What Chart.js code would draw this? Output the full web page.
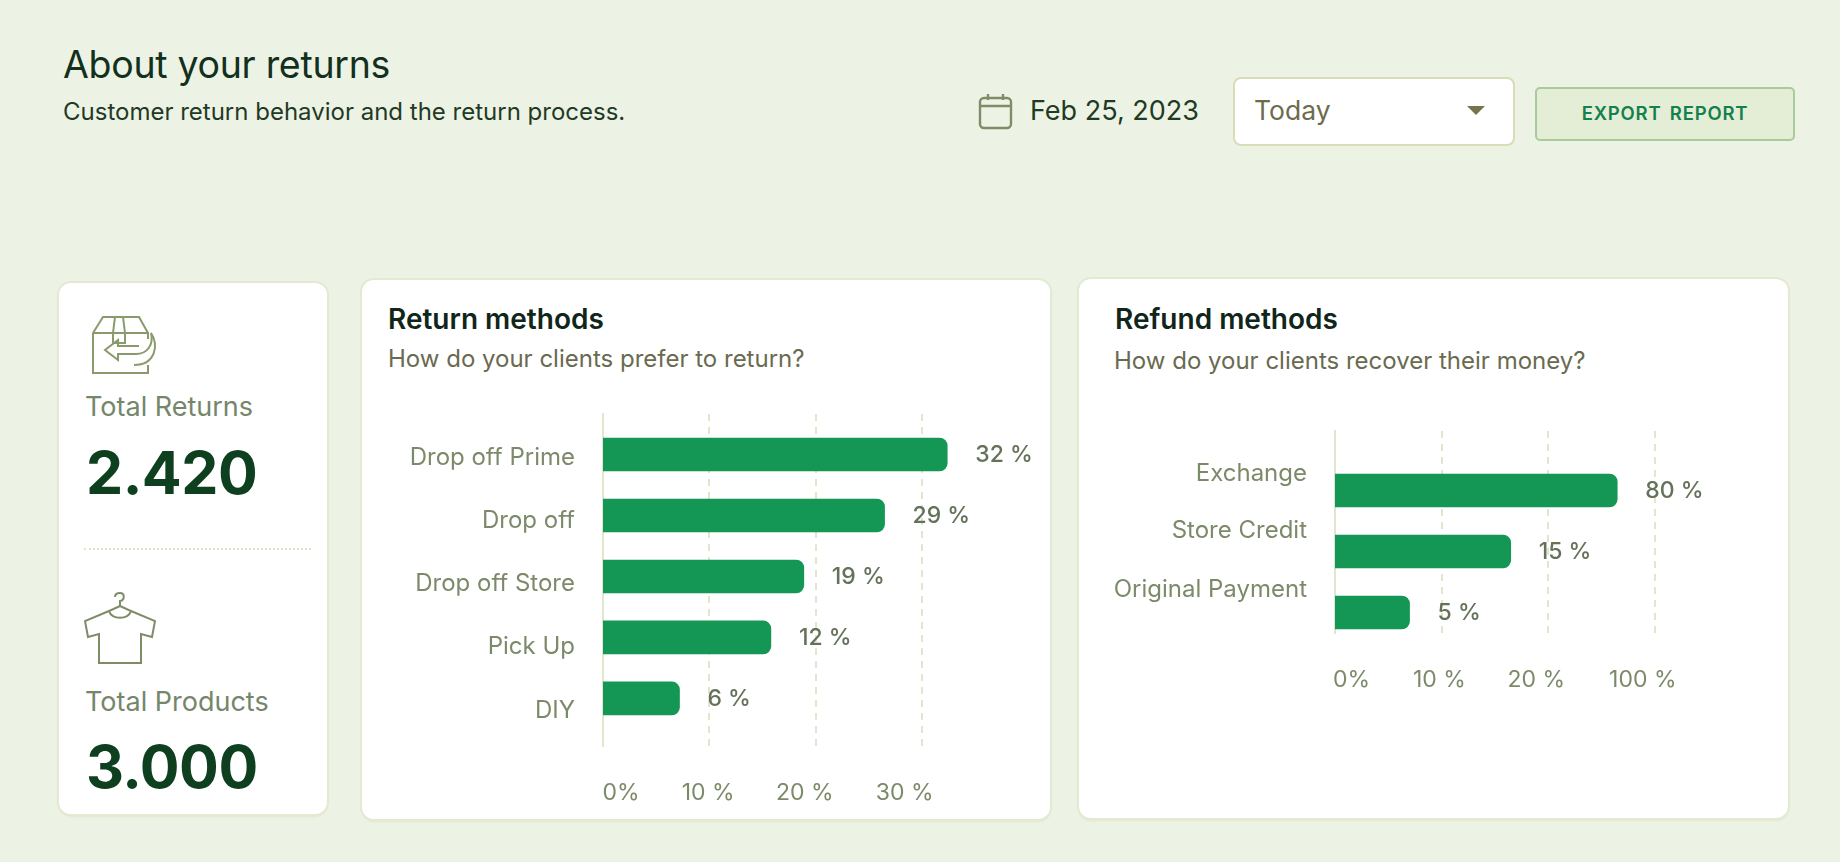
<!DOCTYPE html>
<html lang="en">
<head>
<meta charset="utf-8">
<title>About your returns</title>
<script src="https://cdn.jsdelivr.net/npm/chart.js@4"></script>
<style>
  * { box-sizing: border-box; }
  html, body { margin: 0; width: 1840px; height: 862px; overflow: hidden; background: #edf3e4; font-family: Inter, sans-serif; color: #12301d; }
  .abs { position: absolute; white-space: nowrap; line-height: 1; }
  .card { position: absolute; background: #fff; border-radius: 12px; box-shadow: 0 0 0 2px #e4e9d2, 0 2px 3px #d5dcb8; }
  canvas { position: absolute; }
  h1 { margin: 0; left: 63px; top: 46px; font-size: 37.5px; font-weight: 400; letter-spacing: -.3px; }
  .sub { left: 63px; top: 100px; font-size: 24px; color: #1f3a26; }
  .date { left: 1030px; top: 97px; font-size: 27px; color: #1f3a26; }
  .select { position: absolute; left: 1233px; top: 77px; width: 282px; height: 69px; background: #fff; border: 2px solid #d9dcb7; border-radius: 8px; }
  .select span { position: absolute; left: 19px; top: 18px; font-size: 26.5px; line-height: 1; color: #6d6b4c; }
  .caret { position: absolute; left: 232px; top: 27px; width: 0; height: 0; border-left: 9px solid transparent; border-right: 9px solid transparent; border-top: 9px solid #77734f; }
  .btn { position: absolute; left: 1535px; top: 87px; width: 260px; height: 54px; background: #e4eed6; border: 2px solid #a9cb9c; border-radius: 5px; text-align: center; line-height: 48px; font-size: 18.5px; font-weight: 600; color: #14804e; letter-spacing: .8px; word-spacing: 3px; }
  .label { font-size: 27px; color: #75866a; }
  .big { font-size: 59px; font-weight: 700; color: #0e4020; letter-spacing: -.5px; }
  .title { font-size: 28px; font-weight: 600; color: #10261a; }
  .q { font-size: 24px; color: #6a6a50; }
  .divider { position: absolute; left: 84px; top: 548px; width: 227px; border-top: 2px dotted #dfe4c6; }
</style>
</head>
<body>
<h1 class="abs">About your returns</h1>
<div class="abs sub">Customer return behavior and the return process.</div>
<svg class="abs" style="left:978px;top:92px" width="35" height="38" viewBox="0 0 35 38" fill="none" stroke="#828b68" stroke-width="2.4"><rect x="2" y="6" width="31" height="30" rx="4"/><path d="M2 14h31M10 2v6M25 2v6"/></svg>
<div class="abs date">Feb 25, 2023</div>
<div class="select"><span>Today</span><i class="caret"></i></div>
<div class="btn">EXPORT REPORT</div>

<div class="card" style="left:59px;top:283px;width:268px;height:531px"></div>
<svg class="abs" style="left:91px;top:313px" width="70" height="64" viewBox="0 0 70 64" fill="none" stroke="#8a9a6c" stroke-width="2"><path d="M2 20 12 4h36l9 16M2 20v40h55v-8M2 20h55v6M24 4l-2 16v10h12V20L32 4"/><path d="M48 33H27v-6L14 37l13 10v-6h18c11 0 18-9 15-21 8 11 5 32-17 32"/></svg>
<div class="abs label" style="left:85px;top:393px">Total Returns</div>
<div class="abs big" style="left:86px;top:443px">2.420</div>
<div class="divider"></div>
<svg class="abs" style="left:83px;top:590px" width="74" height="76" viewBox="0 0 74 76" fill="none" stroke="#7f8d66" stroke-width="2"><path d="M37 16v-5c5-1 5-8 0-8s-5 3-5 4M37 16 26 21c3 9 19 9 22 0L37 16M26 21 2 31l3 16 11-3v29h42V44l11 3 3-16-24-10"/></svg>
<div class="abs label" style="left:85px;top:688px">Total Products</div>
<div class="abs big" style="left:86px;top:737px">3.000</div>

<div class="card" style="left:362px;top:280px;width:688px;height:539px"></div>
<div class="abs title" style="left:388px;top:305px">Return methods</div>
<div class="abs q" style="left:388px;top:347px">How do your clients prefer to return?</div>
<canvas id="chart-return" width="660" height="410" style="left:380px;top:400px"></canvas>

<div class="card" style="left:1079px;top:279px;width:709px;height:539px"></div>
<div class="abs title" style="left:1115px;top:305px">Refund methods</div>
<div class="abs q" style="left:1114px;top:349px">How do your clients recover their money?</div>
<canvas id="chart-refund" width="680" height="310" style="left:1090px;top:415px"></canvas>

<script>
// ── DATA ─────────────────────────────────────────────
// Bar lengths are read against the gridlines; the printed percentages
// don't line up with the axis in the picture, so they stay separate
const returnCategories = ['Drop off Prime', 'Drop off', 'Drop off Store', 'Pick Up', 'DIY'];
const returnBars       = [32.4, 26.5, 18.9, 15.8, 7.2];
const returnLabels     = ['32 %', '29 %', '19 %', '12 %', '6 %'];
const returnTicks      = ['0%', '10 %', '20 %', '30 %'];

const refundCategories = ['Exchange', 'Store Credit', 'Original Payment'];
const refundBars       = [26.5, 16.5, 7];
const refundLabels     = ['80 %', '15 %', '5 %'];
const refundTicks      = ['0%', '10 %', '20 %', '100 %'];

const gridValues = [10, 20, 30];

const BAR_COLOR  = '#149755';
const LINE_COLOR = '#e2e6cd';
const TEXT_COLOR = '#7d8a6a';
const FONT = { family: 'Inter, sans-serif', size: 23 };

// Prints the percentage just past the end of each bar
const barLabels = {
  id: 'barLabels',
  afterDatasetsDraw(chart, args, opts) {
    const { ctx } = chart;
    ctx.save();
    ctx.font = '500 23px Inter, sans-serif';
    ctx.fillStyle = '#64725a';
    ctx.textBaseline = 'middle';
    chart.getDatasetMeta(0).data.forEach((bar, i) => {
      ctx.fillText(opts.labels[i], bar.x + 28, bar.y + 1);
    });
    ctx.restore();
  }
};

// Text on the side axes sits off the grid in the picture, so each one gets
// its own scale that shares the range of the axis it belongs to
function drawBars(id, cfg) {
  const fixTicks = values => scale => {
    scale.ticks = values.map(value => ({ value }));
  };
  // No extra room for half-labels, the sizes below are the real plot margins
  const fitBox = box => scale => {
    Object.assign(scale, box, { paddingTop: 0, paddingBottom: 0, paddingLeft: 0, paddingRight: 0 });
  };
  return new Chart(document.getElementById(id), {
    type: 'bar',
    plugins: [barLabels],
    data: {
      datasets: [{
        data: cfg.bars.map((x, y) => ({ x, y })),
        backgroundColor: BAR_COLOR,
        barThickness: 33,
        borderRadius: 8,
      }]
    },
    options: {
      indexAxis: 'y',
      responsive: false,
      animation: false,
      layout: { padding: { top: cfg.top, right: cfg.right } },
      plugins: {
        legend: { display: false },
        tooltip: { enabled: false },
        barLabels: { labels: cfg.labels },
      },
      scales: {
        x: {
          type: 'linear', position: 'bottom', min: 0, max: 40, weight: 0,
          afterBuildTicks: fixTicks(gridValues),
          afterFit: fitBox({ height: 0 }),
          ticks: { display: false },
          grid: { color: LINE_COLOR, lineWidth: 2, drawTicks: false },
          border: { display: false, dash: [7, 6] },
        },
        xText: {
          type: 'linear', axis: 'x', position: 'bottom', min: 0, max: 40, weight: 1,
          afterBuildTicks: fixTicks(cfg.tickAt),
          afterFit: fitBox({ height: cfg.bottom }),
          ticks: { color: TEXT_COLOR, font: FONT, padding: 33, autoSkip: false, maxRotation: 0, callback: (v, i) => cfg.ticks[i] },
          grid: { display: false, drawTicks: false },
          border: { display: false },
        },
        y: {
          type: 'linear', reverse: true, offset: false, min: cfg.yMin, max: cfg.yMax, weight: 0,
          afterBuildTicks: fixTicks([]),
          afterFit: fitBox({ width: 0 }),
          ticks: { display: false },
          grid: { display: false, drawTicks: false },
          border: { color: LINE_COLOR, width: 2 },
        },
        // bar charts default every y scale to offset: true, which would stretch this range
        yText: {
          type: 'linear', axis: 'y', position: 'left', reverse: true, offset: false, min: cfg.yMin, max: cfg.yMax, weight: 1,
          afterBuildTicks: fixTicks(cfg.labelAt),
          afterFit: fitBox({ width: cfg.left }),
          ticks: { color: TEXT_COLOR, font: { ...FONT, size: 24 }, padding: 28, autoSkip: false, crossAlign: 'near', callback: (v, i) => cfg.categories[i] },
          grid: { display: false, drawTicks: false },
          border: { display: false },
        },
      },
    },
  });
}

drawBars('chart-return', {
  categories: returnCategories, bars: returnBars, labels: returnLabels, ticks: returnTicks,
  tickAt: [1.7, 9.9, 19, 28.4],
  labelAt: [0.06, 1.08, 2.12, 3.16, 4.2],
  yMin: -0.664, yMax: 4.78,
  top: 14, left: 223, right: 12, bottom: 64,
});

drawBars('chart-refund', {
  categories: refundCategories, bars: refundBars, labels: refundLabels, ticks: refundTicks,
  tickAt: [1.55, 9.8, 18.9, 28.9],
  labelAt: [-0.28, 0.66, 1.62],
  yMin: -0.975, yMax: 2.336,
  top: 16, left: 245, right: 9, bottom: 92,
});
</script>
</body>
</html>
